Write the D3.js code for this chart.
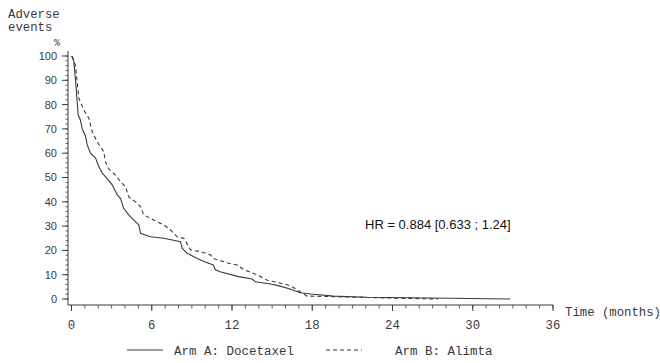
<!DOCTYPE html>
<html><head><meta charset="utf-8">
<script src="https://cdn.jsdelivr.net/npm/d3@7"></script>
<style>
html,body{margin:0;padding:0;background:#fff;}
svg{display:block;}
</style></head>
<body>
<svg id="chart" width="660" height="363"></svg>
<script>
// ---- data ----
const armA_time = [0,0.17,0.3,0.5,0.67,0.8,1.05,1.17,1.42,1.8,2.04,2.3,2.67,3.04,3.42,3.66,3.9,4.28,4.66,5.03,5.16,5.9,6.9,8.15,8.27,8.65,9.4,9.9,10.6,10.76,11.1,12.5,13.5,13.75,14.9,15.6,16.4,17.1,17.9,19.6,22.1,28.3,32.8];
const armA_pct  = [100,98,90,75.7,73.6,70,67,63.5,60,58,54.5,51.8,49.5,47,42.8,41.4,37.3,34.6,32.5,30.5,27,25.6,25,23.6,20.9,18.8,16.7,15.4,14,12,11.2,9.2,8.2,7.1,6.2,5.3,4,2.6,2.05,1.2,0.7,0.3,0];
const armB_time = [0.05,0.3,0.43,0.55,0.92,1.3,1.42,1.55,1.92,2.41,2.54,2.79,3.29,3.66,4.04,4.28,4.78,5.16,5.4,6.15,6.9,7.4,7.9,8.4,8.9,9.64,10.4,10.6,11.75,12.4,12.9,13.9,14.6,15.9,16.4,17.1,17.6,19.6,24.6,27.4];
const armB_pct  = [100,96,89,82.6,77.8,74.4,71.6,68.8,64.7,60.6,56.5,53.5,51,48.3,46.2,42,40,38,34.6,32.5,30.5,28.4,25.6,25,20.2,19.5,18.1,16.7,14.7,14,12,9.9,7.8,6.2,5.3,3,1.2,0.95,0.3,0];
const xTicks = [0,6,12,18,24,30,36];
const yTicks = [0,10,20,30,40,50,60,70,80,90,100];
const seriesNames = ["Arm A: Docetaxel","Arm B: Alimta"];
const hrText = "HR = 0.884 [0.633 ; 1.24]";

// ---- drawing ----
const svg = d3.select("#chart");
const ink = "#3a3a3a";
const mono = "'Liberation Mono', 'DejaVu Sans Mono', monospace";
const sans = "'Liberation Sans', Arial, sans-serif";

const x = d3.scaleLinear().domain([0,36]).range([71.5,553]);
const y = d3.scaleLinear().domain([0,100]).range([299,56]);
const axisX0 = 68, axisY0 = 305;

// y axis
const gy = svg.append("g");
gy.append("line").attr("x1",axisX0).attr("x2",axisX0).attr("y1",51).attr("y2",axisY0)
  .attr("stroke",ink).attr("stroke-width",1);
const yMinor = d3.range(0,101,2);
gy.selectAll(".ym").data(yMinor).enter().append("line")
  .attr("x1",axisX0-2.5).attr("x2",axisX0).attr("y1",d=>y(d)).attr("y2",d=>y(d))
  .attr("stroke",ink).attr("stroke-width",0.8);
gy.selectAll(".yM").data(yTicks).enter().append("line")
  .attr("x1",axisX0-6).attr("x2",axisX0).attr("y1",d=>y(d)).attr("y2",d=>y(d))
  .attr("stroke",ink).attr("stroke-width",1);
gy.selectAll(".yl").data(yTicks).enter().append("text")
  .attr("x",57).attr("y",d=>y(d)).attr("dy","0.36em")
  .attr("text-anchor","end").attr("font-family",sans).attr("font-size",11)
  .attr("fill",ink).text(d=>d);

// x axis
const gx = svg.append("g");
gx.append("line").attr("x1",axisX0).attr("x2",x(36)).attr("y1",axisY0).attr("y2",axisY0)
  .attr("stroke",ink).attr("stroke-width",1);
gx.selectAll(".xm").data(d3.range(0,37,1)).enter().append("line")
  .attr("x1",d=>x(d)).attr("x2",d=>x(d)).attr("y1",axisY0).attr("y2",axisY0+3.5)
  .attr("stroke",ink).attr("stroke-width",0.8);
gx.selectAll(".xM").data(xTicks).enter().append("line")
  .attr("x1",d=>x(d)).attr("x2",d=>x(d)).attr("y1",axisY0).attr("y2",axisY0+6)
  .attr("stroke",ink).attr("stroke-width",1);
gx.selectAll(".xl").data(xTicks).enter().append("text")
  .attr("x",d=>x(d)).attr("y",329).attr("text-anchor","middle")
  .attr("font-family",mono).attr("font-size",12.3).attr("fill",ink).text(d=>d);

// axis titles
svg.append("text").attr("x",8).attr("y",18).attr("font-family",mono).attr("font-size",12.3).attr("fill",ink).text("Adverse");
svg.append("text").attr("x",8).attr("y",31).attr("font-family",mono).attr("font-size",12.3).attr("fill",ink).text("events");
svg.append("text").attr("x",54).attr("y",46).attr("font-family",mono).attr("font-size",10).attr("fill",ink).text("%");
svg.append("text").attr("x",565).attr("y",316).attr("font-family",mono).attr("font-size",12.3).attr("fill",ink).text("Time (months)");

// curves
const line = d3.line().x(d=>x(d[0])).y(d=>y(d[1]));
const armA = d3.zip(armA_time, armA_pct);
const armB = d3.zip(armB_time, armB_pct);
svg.append("path").datum(armA).attr("d",line).attr("fill","none")
  .attr("stroke",ink).attr("stroke-width",1.1);
svg.append("path").datum(armB).attr("d",line).attr("fill","none")
  .attr("stroke",ink).attr("stroke-width",1.1).attr("stroke-dasharray","4,3");

// HR annotation
svg.append("text").attr("x",365).attr("y",229).attr("font-family",sans).attr("font-size",13)
  .attr("fill","#111").text(hrText);

// legend
const lg = svg.append("g");
lg.append("line").attr("x1",127).attr("x2",163).attr("y1",350).attr("y2",350).attr("stroke",ink).attr("stroke-width",1.1);
lg.append("text").attr("x",174).attr("y",355).attr("font-family",mono).attr("font-size",12.5).attr("fill",ink).text(seriesNames[0]);
lg.append("line").attr("x1",326).attr("x2",362).attr("y1",350).attr("y2",350).attr("stroke",ink).attr("stroke-width",1.1).attr("stroke-dasharray","4,3");
lg.append("text").attr("x",395).attr("y",355).attr("font-family",mono).attr("font-size",12.5).attr("fill",ink).text(seriesNames[1]);
</script>
</body></html>
